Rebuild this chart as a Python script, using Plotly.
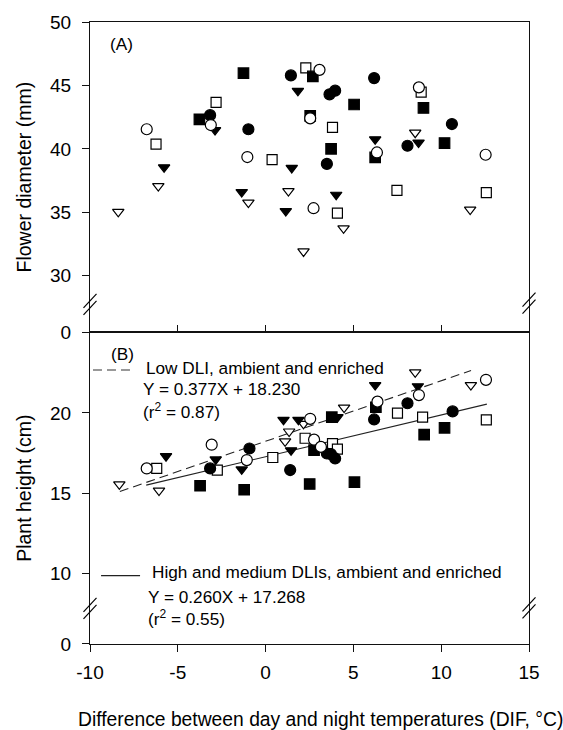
import plotly.graph_objects as go

# ---------------- data ----------------
# Panel A: flower diameter (mm) vs DIF (°C)
dia_fc_x = [-3.16, -0.98, 1.44, 3.64, 3.96, 3.49, 6.18, 8.08, 10.61]
dia_fc_y = [42.66, 41.55, 45.79, 44.30, 44.59, 38.82, 45.58, 40.25, 41.96]
dia_oc_x = [-6.77, -3.12, -1.04, 2.54, 3.07, 2.73, 6.34, 8.73, 12.53]
dia_oc_y = [41.55, 41.88, 39.36, 42.41, 46.23, 35.33, 39.72, 44.85, 39.54]
dia_fs_x = [-3.77, -1.26, 2.69, 2.54, 3.73, 5.04, 6.24, 8.99, 10.19]
dia_fs_y = [42.33, 45.97, 45.71, 42.61, 40.01, 43.50, 39.33, 43.23, 40.46]
dia_os_x = [-6.24, -2.82, 0.37, 2.29, 3.81, 4.09, 7.48, 8.86, 12.57]
dia_os_y = [40.38, 43.66, 39.15, 46.39, 41.70, 34.94, 36.73, 44.48, 36.55]
dia_ft_x = [-5.78, -2.88, -1.36, 1.49, 1.15, 1.84, 4.02, 6.24, 8.71]
dia_ft_y = [38.55, 41.49, 36.60, 38.50, 35.10, 44.58, 36.39, 40.76, 40.50]
dia_ot_x = [-8.39, -6.11, -0.98, 1.30, 2.16, 4.44, 8.52, 11.65]
dia_ot_y = [35.04, 37.07, 35.77, 36.68, 31.92, 33.74, 41.28, 35.22]

# Panel B: plant height (cm) vs DIF (°C)
ht_fc_x = [-3.16, -0.92, 1.40, 3.49, 3.72, 3.96, 6.18, 8.08, 10.65]
ht_fc_y = [16.54, 17.78, 16.44, 17.47, 17.43, 17.16, 19.59, 20.60, 20.09]
ht_oc_x = [-6.77, -3.07, -1.07, 2.54, 2.76, 3.15, 6.37, 8.73, 12.55]
ht_oc_y = [16.54, 18.02, 17.06, 19.63, 18.33, 17.88, 20.70, 21.11, 22.06]
ht_fs_x = [-3.73, -1.22, 2.51, 2.76, 3.77, 5.06, 6.28, 9.03, 10.19]
ht_fs_y = [15.46, 15.21, 15.57, 17.68, 19.73, 15.68, 20.35, 18.64, 19.07]
ht_os_x = [-6.20, -2.75, 0.41, 2.25, 3.81, 4.09, 7.51, 8.94, 12.57]
ht_os_y = [16.54, 16.44, 17.22, 18.42, 18.09, 17.74, 19.98, 19.73, 19.57]
ht_ft_x = [-5.67, -2.84, -1.36, 1.02, 1.87, 1.45, 4.09, 6.24, 8.67]
ht_ft_y = [17.30, 17.10, 16.48, 19.57, 19.57, 17.67, 19.73, 21.73, 21.66]
ht_ot_x = [-8.33, -6.07, 1.11, 1.34, 2.16, 4.47, 8.52, 11.69]
ht_ot_y = [15.55, 15.16, 18.23, 18.84, 19.32, 20.33, 22.53, 21.73]

# regressions (panel B)
low_slope, low_int = 0.377, 18.230
low_x = [-8.3, 11.7]
hm_slope, hm_int = 0.260, 17.268
hm_x = [-6.8, 12.6]

# axes / ticks
x_ticks = [-10, -5, 0, 5, 10, 15]
x_ticktext = ["-10", "-5", "0", "5", "10", "15"]
a_break = 25.55          # broken axis: position of the "0" label in panel A
a_ticks = [a_break, 30, 35, 40, 45, 50]
a_ticktext = ["0", "30", "35", "40", "45", "50"]
b_break = 5.6            # broken axis: position of the "0" label in panel B
b_ticks = [b_break, 10, 15, 20]
b_ticktext = ["0", "10", "15", "20"]

FONT = "Liberation Sans, Arial, Helvetica, sans-serif"
LC = "#111111"

fig = go.Figure()

# regression lines (panel B)
fig.add_trace(go.Scatter(x=low_x, y=[low_slope * v + low_int for v in low_x], mode="lines",
                         xaxis="x2", yaxis="y2", line=dict(color="#222", width=1.1, dash="9px,5px"),
                         name="Low DLI"))
fig.add_trace(go.Scatter(x=hm_x, y=[hm_slope * v + hm_int for v in hm_x], mode="lines",
                         xaxis="x2", yaxis="y2", line=dict(color="#222", width=1.1),
                         name="High and medium DLIs"))


def add(x, y, sym, filled, xa, ya, size):
    fig.add_trace(go.Scatter(
        x=x, y=y, mode="markers", xaxis=xa, yaxis=ya,
        marker=dict(symbol=sym, size=size, color="black" if filled else "white",
                    line=dict(color="black", width=1.2))))


for xa, ya, d in [
    ("x", "y", [(dia_os_x, dia_os_y, "square", False, 10), (dia_fs_x, dia_fs_y, "square", True, 10.5),
                (dia_ot_x, dia_ot_y, "triangle-down", False, 10), (dia_ft_x, dia_ft_y, "triangle-down", True, 10),
                (dia_fc_x, dia_fc_y, "circle", True, 11), (dia_oc_x, dia_oc_y, "circle", False, 11)]),
    ("x2", "y2", [(ht_os_x, ht_os_y, "square", False, 10), (ht_fs_x, ht_fs_y, "square", True, 10.5),
                  (ht_ot_x, ht_ot_y, "triangle-down", False, 10), (ht_ft_x, ht_ft_y, "triangle-down", True, 10),
                  (ht_fc_x, ht_fc_y, "circle", True, 11), (ht_oc_x, ht_oc_y, "circle", False, 11)]),
]:
    for x, y, s, f, sz in d:
        add(x, y, s, f, xa, ya, sz)

split = 0.5011
TF = dict(family=FONT, size=19, color="black")
common_y = dict(ticks="outside", ticklen=7, tickwidth=1.2, tickcolor=LC, showline=True, linecolor=LC,
                linewidth=1.2, mirror=True, showgrid=False, zeroline=False,
                tickfont=TF, ticklabelstandoff=7)

fig.update_layout(
    width=563, height=730,
    margin=dict(l=90, r=34, t=16, b=86),
    paper_bgcolor="white", plot_bgcolor="white",
    showlegend=False,
    font=dict(family=FONT, color="black"),
    xaxis=dict(domain=[0, 1], anchor="y", range=[-10, 15], tickvals=x_ticks, ticks="inside", ticklen=7,
               tickwidth=1.2, tickcolor=LC, showticklabels=False, showline=True, linecolor=LC, linewidth=1.2,
               mirror=True, showgrid=False, zeroline=False),
    xaxis2=dict(domain=[0, 1], anchor="y2", range=[-10, 15], tickvals=x_ticks, ticktext=x_ticktext,
                ticks="outside", ticklen=7,
                tickwidth=1.2, tickcolor=LC, showline=True, linecolor=LC, linewidth=1.2, mirror=True,
                showgrid=False, zeroline=False, tickfont=TF, ticklabelstandoff=4),
    yaxis=dict(domain=[split, 1], anchor="x", range=[a_break, 50], tickvals=a_ticks, ticktext=a_ticktext,
               title=dict(text="Flower diameter (mm)", font=dict(family=FONT, size=19.5), standoff=13),
               **common_y),
    yaxis2=dict(domain=[0, split], anchor="x2", range=[b_break, 25.02], tickvals=b_ticks, ticktext=b_ticktext,
                title=dict(text="Plant height (cm)", font=dict(family=FONT, size=19.5), standoff=13),
                **common_y),
)

# broken-axis marks
def brk(xp, yp):
    for o in (-3.5, 3.5):
        fig.add_shape(type="line", xref="paper", yref="paper", xsizemode="pixel", ysizemode="pixel",
                      xanchor=xp, yanchor=yp, x0=-6.5, x1=6.5, y0=o - 7, y1=o + 7,
                      line=dict(color="black", width=1.2))

brk(0, 0.546)
brk(1, 0.548)
brk(0, 0.0573)
brk(1, 0.0581)

# legend samples
fig.add_shape(type="line", xref="x2", yref="y2", x0=-9.83, x1=-7.61, y0=22.67, y1=22.67,
              line=dict(color="#333", width=1.1, dash="9px,5px"))
fig.add_shape(type="line", xref="x2", yref="y2", x0=-9.37, x1=-7.15, y0=9.86, y1=9.86,
              line=dict(color="#222", width=1.1))

AF = dict(family=FONT, size=17.2, color="black")
def ann(text, x, y, xref="x2", yref="y2", font=AF):
    fig.add_annotation(text=text, x=x, y=y, xref=xref, yref=yref, xanchor="left", yanchor="middle",
                       showarrow=False, font=font)

ann("(A)", -8.975, 48.26, "x", "y")
ann("(B)", -8.89, 23.69)
ann("Low DLI, ambient and enriched", -6.95, 22.82)
ann("Y = 0.377X + 18.230", -7.12, 21.50)
ann("(r<sup>2</sup> = 0.87)", -7.12, 20.12)
ann("High and medium DLIs, ambient and enriched", -6.57, 10.06)
ann("Y = 0.260X + 17.268", -6.83, 8.50)
ann("(r<sup>2</sup> = 0.55)", -6.83, 7.23)

fig.add_annotation(text="Difference between day and night temperatures (DIF, °C)", x=0.526, y=-0.121,
                   xref="paper", yref="paper", xanchor="center", yanchor="middle", showarrow=False,
                   font=dict(family=FONT, size=19.3, color="black"))

fig.write_html("out.html")
